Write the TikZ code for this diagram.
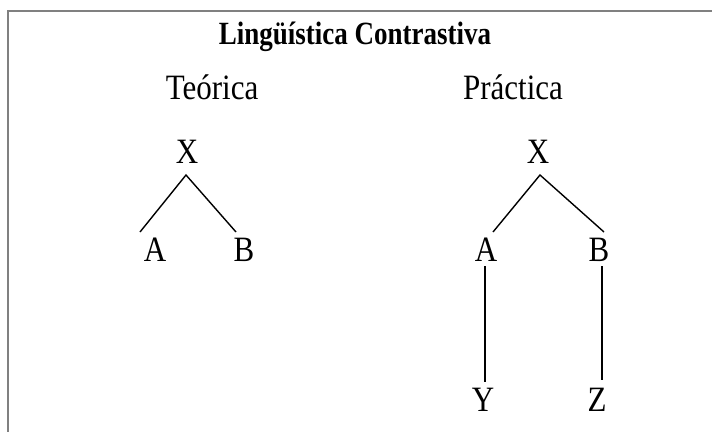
\documentclass[tikz,border=0pt]{standalone}
\usepackage{graphicx}
\usepackage{fontspec}
\setmainfont{Liberation Serif}
\newcommand{\vstr}[1]{\scalebox{1}[1.15]{#1}}
\begin{document}
\begin{tikzpicture}[x=1pt,y=-1pt,
  lbl/.style={inner sep=0pt,font=\fontsize{31}{33}\selectfont},
  ttl/.style={inner sep=0pt,font=\fontsize{27}{30}\selectfont\bfseries},
  edge/.style={line width=1.4pt,black},
  frame/.style={line width=2pt,color=black!50}]
\useasboundingbox (0,0) rectangle (712,432);
\draw[frame] (712,11) -- (8,11) -- (8,432);
\node[ttl] (title) at (355,37) {\scalebox{1}[1.2]{Lingüística Contrastiva}};
\node[lbl] (teo) at (212,87) {\vstr{Teórica}};
\node[lbl] (pra) at (513,87) {\vstr{Práctica}};
% left tree
\node[lbl] (lx) at (187,152) {\vstr{X}};
\node[lbl] (la) at (155,250) {\vstr{A}};
\node[lbl] (lb) at (244,250) {\vstr{B}};
\coordinate (lxa) at (186,175);
\coordinate (laa) at (140,232);
\coordinate (lba) at (236,232);
\draw[edge] (laa) -- (lxa) -- (lba);
% right tree
\node[lbl] (rx) at (538,152) {\vstr{X}};
\node[lbl] (ra) at (486,250) {\vstr{A}};
\node[lbl] (rb) at (599,250) {\vstr{B}};
\node[lbl] (ry) at (483,400) {\vstr{Y}};
\node[lbl] (rz) at (597,400) {\vstr{Z}};
\coordinate (rxa) at (540,175);
\coordinate (raa) at (493,232);
\coordinate (rba) at (604,232);
\coordinate (ray) at (485,266);
\coordinate (yra) at (485,382);
\coordinate (rbz) at (602,266);
\coordinate (zrb) at (602,380);
\draw[edge] (raa) -- (rxa) -- (rba);
\draw[edge] (ray) -- (yra);
\draw[edge] (rbz) -- (zrb);
\end{tikzpicture}
\end{document}
